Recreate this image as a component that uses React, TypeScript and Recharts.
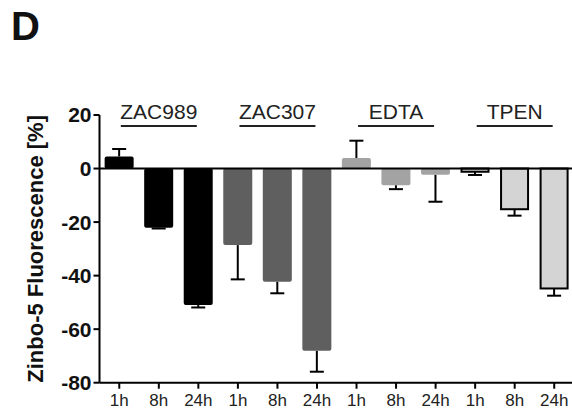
import React from "react";
import { BarChart, Bar, XAxis, YAxis, ReferenceLine } from "recharts";

const FONT = "'Liberation Sans', Arial, Helvetica, sans-serif";

const groups = ["ZAC989", "ZAC307", "EDTA", "TPEN"];
const timeLabels = ["1h", "8h", "24h"];

// mean change in Zinbo-5 fluorescence [%], one value per time point
const zac989 = [4.5, -22.1, -51.0];
const zac307 = [-28.6, -42.3, -68.1];
const edta = [3.9, -6.2, -2.3];
const tpen = [-1.2, -15.2, -44.8];

// error (one side, away from zero)
const zac989Err = [2.8, 0.3, 0.9];
const zac307Err = [12.8, 4.3, 7.8];
const edtaErr = [6.5, 1.5, 10.1];
const tpenErr = [1.2, 2.4, 2.7];

const yTicks = [-80, -60, -40, -20, 0, 20];

const groupFills = ["#000000", "#5f5f5f", "#a3a3a3", "#d4d4d4"];

const values = [zac989, zac307, edta, tpen];
const errors = [zac989Err, zac307Err, edtaErr, tpenErr];

const data = groups.flatMap((g, gi) =>
  timeLabels.map((t, ti) => ({
    id: `${g}-${t}`,
    time: t,
    group: g,
    gi,
    value: values[gi][ti],
    err: errors[gi][ti],
  }))
);

function BarWithError(props: any) {
  const { x, y, width, height, payload } = props;
  const top = Math.min(y, y + height);
  const h = Math.abs(height);
  const v = payload.value;
  const ppu = h / Math.abs(v);
  const end = v >= 0 ? top : top + h;
  const errEnd = v >= 0 ? end - payload.err * ppu : end + payload.err * ppu;
  const cx = x + width / 2;
  const outlined = payload.gi === 3;
  return (
    <g>
      <line x1={cx} x2={cx} y1={end} y2={errEnd} stroke="#000" strokeWidth={2} />
      <line x1={cx - 7} x2={cx + 7} y1={errEnd} y2={errEnd} stroke="#000" strokeWidth={2} />
      {outlined ? (
        <rect x={x + 1} y={top} width={width - 2} height={h} fill={groupFills[payload.gi]} stroke="#000" strokeWidth={2} />
      ) : (
        <rect x={x} y={top} width={width} height={h} fill={groupFills[payload.gi]} rx={2} />
      )}
    </g>
  );
}

function GroupTick(props: any) {
  const { x, index } = props;
  if (index % 3 !== 1) return <g />;
  return (
    <g>
      <text x={x} y={119} textAnchor="middle" fontSize={21} fill="#222" fontFamily={FONT}>
        {data[index].group}
      </text>
      <line x1={x - 38} x2={x + 38} y1={126} y2={126} stroke="#222" strokeWidth={2} />
    </g>
  );
}

function YLabel(props: any) {
  const vb = props.viewBox || { x: 39.5, y: 115, width: 60, height: 268 };
  const cx = 43;
  const cy = vb.y + vb.height / 2;
  return (
    <text
      x={cx}
      y={cy}
      transform={`rotate(-90 ${cx} ${cy})`}
      textAnchor="middle"
      fontSize={22}
      fontWeight="bold"
      fill="#111"
      fontFamily={FONT}
    >
      Zinbo-5 Fluorescence [%]
    </text>
  );
}

export default function App() {
  return (
    <div style={{ position: "absolute", left: 0, top: 0, width: 572, height: 415, overflow: "hidden", background: "#fff", fontFamily: FONT }}>
      <div style={{ position: "absolute", left: 11, top: 2, fontSize: 40, fontWeight: "bold", color: "#111", lineHeight: "48px" }}>D</div>
      <BarChart
        width={580}
        height={415}
        data={data}
        margin={{ top: 95, right: 6, bottom: 2.3, left: 39.5 }}
        barCategoryGap="13%"
      >
        <XAxis
          xAxisId="top"
          orientation="top"
          dataKey="id"
          height={20}
          axisLine={false}
          tickLine={false}
          interval={0}
          tick={(p: any) => <GroupTick {...p} />}
        />
        <XAxis
          xAxisId="main"
          dataKey="id"
          height={30}
          interval={0}
          tickSize={6}
          tickMargin={5}
          tickFormatter={(_v: any, i: number) => data[i].time}
          tick={{ fontSize: 17, fill: "#222", fontFamily: FONT }}
          axisLine={{ stroke: "#000", strokeWidth: 2 }}
          tickLine={{ stroke: "#000", strokeWidth: 2 }}
        />
        <YAxis
          width={60}
          domain={[-80, 20]}
          ticks={yTicks}
          interval={0}
          tickSize={6}
          tickMargin={2}
          tick={{ fontSize: 21, fontWeight: "bold", fill: "#111", fontFamily: FONT }}
          axisLine={{ stroke: "#000", strokeWidth: 2 }}
          tickLine={{ stroke: "#000", strokeWidth: 2 }}
          label={<YLabel />}
        />
        <Bar xAxisId="main" dataKey="value" shape={<BarWithError />} isAnimationActive={false} />
        <ReferenceLine xAxisId="main" y={0} stroke="#000" strokeWidth={2} />
      </BarChart>
    </div>
  );
}
